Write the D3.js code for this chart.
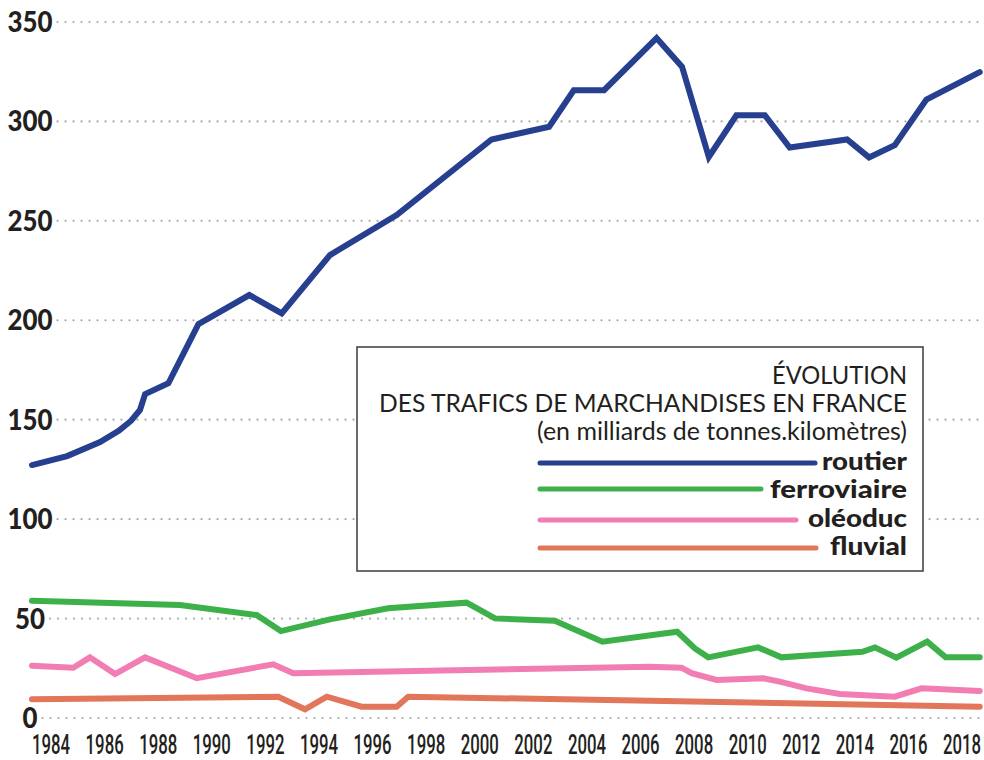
<!DOCTYPE html>
<html>
<head>
<meta charset="utf-8">
<script src="https://cdn.jsdelivr.net/npm/d3@7"></script>
<style>
  html, body { margin: 0; padding: 0; background: #fff; }
  svg { display: block; }
</style>
</head>
<body>
<svg id="chart" width="984" height="760"></svg>
<script>
// ---- data (decimal years, milliards de tonnes.km) ----
const routierYears  = [1984.0,1985.31,1986.54,1987.25,1987.70,1988.03,1988.22,1989.09,1990.21,1992.11,1993.32,1995.12,1997.61,2001.15,2003.30,2004.22,2005.35,2007.31,2008.26,2009.26,2010.29,2011.35,2012.28,2014.42,2015.24,2016.20,2017.38,2019.37];
const routierValues = [127.2,131.7,138.8,144.5,149.5,154.9,162.9,168.3,198.1,212.7,203.5,232.8,252.9,290.9,297.3,315.7,315.7,341.9,327.5,282.1,303.1,303.1,286.9,290.9,281.9,288.1,311.0,324.8];

const ferroYears  = [1984.0,1989.52,1992.38,1993.29,1995.12,1997.29,2000.22,2001.28,2003.51,2005.29,2008.08,2008.74,2009.24,2011.10,2011.97,2014.99,2015.46,2016.26,2017.41,2018.10,2019.37];
const ferroValues = [59.0,56.8,51.8,43.7,49.6,55.2,58.0,50.1,48.9,38.4,43.4,35.0,30.5,35.5,30.5,33.3,35.5,30.3,38.4,30.5,30.5];

const oleoYears  = [1984.0,1985.54,1986.16,1987.10,1988.22,1990.15,1993.00,1993.75,2007.06,2008.24,2008.62,2009.55,2011.29,2011.91,2012.91,2014.15,2016.20,2017.20,2019.37];
const oleoValues = [26.3,25.3,30.5,22.1,30.5,20.0,27.0,22.5,25.8,25.3,22.5,19.1,20.0,18.3,14.9,12.1,10.7,14.9,13.6];

const fluvYears  = [1984.0,1993.19,1994.19,1995.0,1996.30,1997.61,1998.04,2007.06,2019.37];
const fluvValues = [9.4,10.7,4.4,10.7,5.7,5.7,10.7,8.7,5.7];

const xTickYears = [1984,1986,1988,1990,1992,1994,1996,1998,2000,2002,2004,2006,2008,2010,2012,2014,2016,2018];
const yTickValues = [0,50,100,150,200,250,300,350];

const seriesNames  = ["routier","ferroviaire","oléoduc","fluvial"];
const seriesColors = ["#263f8e","#3db049","#f27db3","#e1765a"];
const titleLines = ["ÉVOLUTION","DES TRAFICS DE MARCHANDISES EN FRANCE","(en milliards de tonnes.kilomètres)"];

// ---- scales ----
const x = d3.scaleLinear().domain([1984, 2018]).range([32, 943]);
const y = d3.scaleLinear().domain([0, 350]).range([718, 22]);

const svg = d3.select("#chart");

// ---- y grid + labels ----
const digitW = 15;
const yLabelCx = 30;
const grid = svg.append("g");
yTickValues.forEach(v => {
  const s = String(v);
  const w = s.length * digitW;
  grid.append("line")
    .attr("x1", yLabelCx + w / 2 + 5).attr("x2", 984)
    .attr("y1", y(v)).attr("y2", y(v))
    .attr("stroke", "#a8a8a8").attr("stroke-width", 2.2)
    .attr("stroke-linecap", "round").attr("stroke-dasharray", "0,8");
  grid.append("text")
    .attr("x", yLabelCx).attr("y", y(v) + 10)
    .attr("text-anchor", "middle")
    .attr("font-family", "Lato, 'DejaVu Sans', sans-serif")
    .attr("font-weight", 900).attr("font-size", 28)
    .attr("fill", "#231f20")
    .attr("textLength", w).attr("lengthAdjust", "spacingAndGlyphs")
    .text(s);
});

// ---- x labels (condensed by horizontal scaling) ----
const xAxis = svg.append("g");
xTickYears.forEach(yr => {
  xAxis.append("text")
    .attr("transform", `translate(${x(yr)},754) scale(0.61,1)`)
    .attr("text-anchor", "start")
    .attr("font-family", "Roboto, 'Liberation Sans', sans-serif")
    .attr("font-weight", 500).attr("font-size", 27.5)
    .attr("fill", "#231f20")
    .text(yr);
});

// ---- lines ----
const series = [
  [routierYears, routierValues],
  [ferroYears, ferroValues],
  [oleoYears, oleoValues],
  [fluvYears, fluvValues]
];
const line = d3.line().x(d => x(d[0])).y(d => y(d[1]));
[3, 2, 1, 0].forEach(i => {
  const pts = series[i][0].map((yr, k) => [yr, series[i][1][k]]);
  svg.append("path")
    .attr("d", line(pts))
    .attr("fill", "none")
    .attr("stroke", seriesColors[i])
    .attr("stroke-width", 6)
    .attr("stroke-linejoin", "miter")
    .attr("stroke-linecap", "round");
});

// ---- legend box ----
const lg = svg.append("g");
lg.append("rect")
  .attr("x", 357).attr("y", 347).attr("width", 566).attr("height", 224)
  .attr("fill", "#fff").attr("stroke", "#3a3a3a").attr("stroke-width", 1.5);

const titleBaselines = [384, 412, 440];
const titleWidths = [135, 528, 370];
titleLines.forEach((t, i) => {
  lg.append("text")
    .attr("x", 907).attr("y", titleBaselines[i])
    .attr("text-anchor", "end")
    .attr("font-family", "Lato, 'Noto Sans', sans-serif")
    .attr("font-weight", 400).attr("font-size", 25)
    .attr("fill", "#231f20")
    .attr("textLength", titleWidths[i]).attr("lengthAdjust", "spacingAndGlyphs")
    .text(t);
});

const legBaselines = [470, 498, 527, 555];
const legLineY = [463, 489, 520, 548];
const legLineEnd = [815, 761, 796, 816];
const legLabelW = [85, 137, 99, 77];
seriesNames.forEach((n, i) => {
  lg.append("line")
    .attr("x1", 540).attr("x2", legLineEnd[i])
    .attr("y1", legLineY[i]).attr("y2", legLineY[i])
    .attr("stroke", seriesColors[i]).attr("stroke-width", 5)
    .attr("stroke-linecap", "round");
  lg.append("text")
    .attr("x", 907).attr("y", legBaselines[i])
    .attr("text-anchor", "end")
    .attr("font-family", "Lato, 'DejaVu Sans', sans-serif")
    .attr("font-weight", 900).attr("font-size", 25)
    .attr("fill", "#231f20")
    .attr("textLength", legLabelW[i]).attr("lengthAdjust", "spacingAndGlyphs")
    .text(n);
});
</script>
</body>
</html>
